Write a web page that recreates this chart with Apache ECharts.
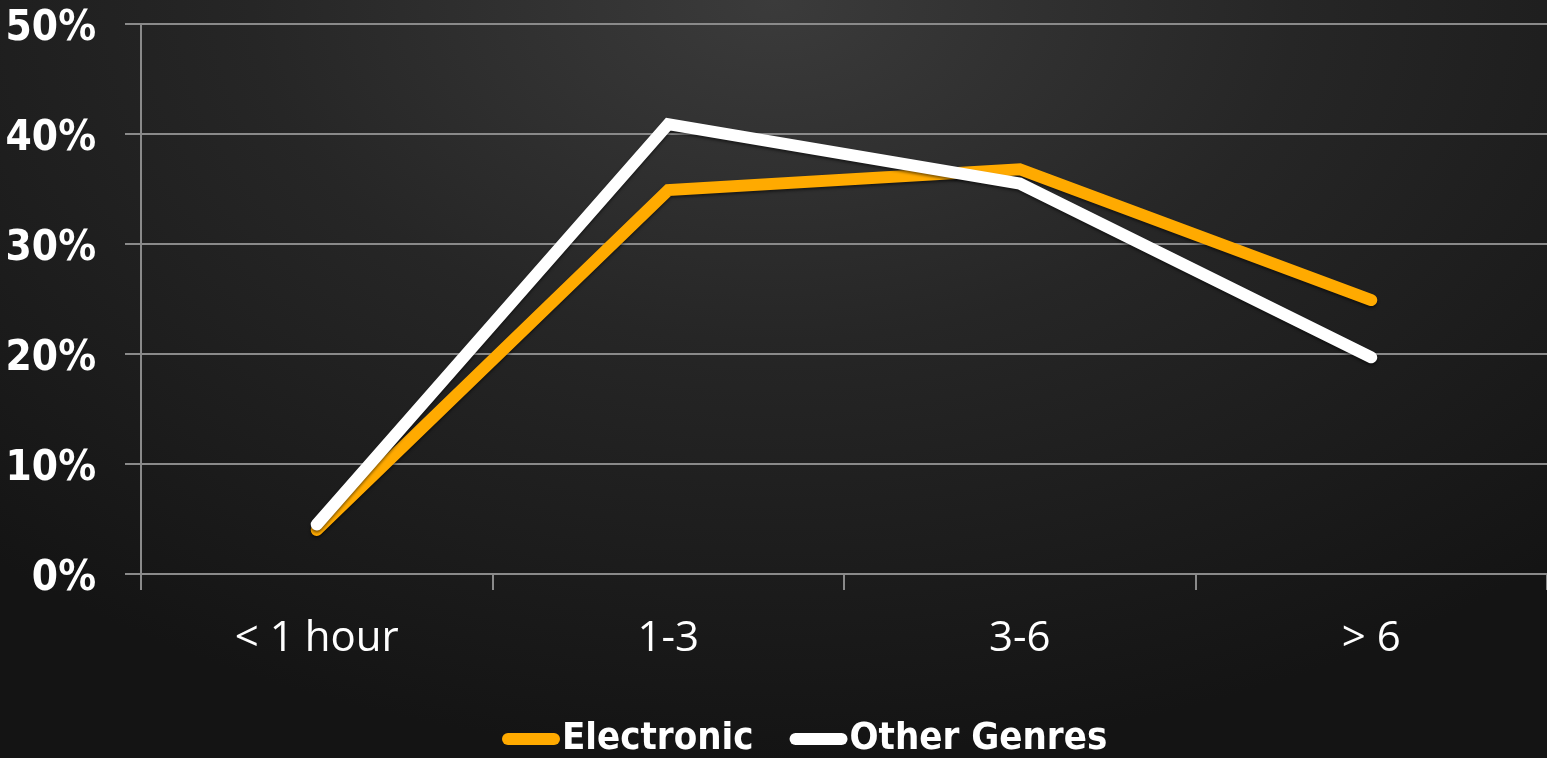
<!DOCTYPE html>
<html>
<head>
<meta charset="utf-8">
<script src="https://cdn.jsdelivr.net/npm/echarts@6/dist/echarts.min.js"></script>
<style>
  html, body { margin: 0; padding: 0; width: 100%; height: 100%; overflow: hidden; }
  body { background: radial-gradient(ellipse 75% 100% at 50% 0%, #3b3b3b 0%, #262626 45%, #141414 100%); }
  #chart { width: 1547px; height: 758px; }
</style>
</head>
<body>
<div id="chart"></div>
<script>
// Hours of listening per day, share of listeners
const categories = ['< 1 hour', '1-3', '3-6', '> 6'];
const electronic = [4.0, 34.9, 36.8, 24.9];
const otherGenres = [4.5, 40.9, 35.5, 19.7];
const seriesNames = ['Electronic', 'Other Genres'];

const condensedBold = '"DejaVu Sans Condensed", "DejaVu Sans", sans-serif';
const pillIcon = 'path://M6,0 H52 A6,6 0 0 1 52,12 H6 A6,6 0 0 1 6,0 Z';

const chart = echarts.init(document.getElementById('chart'), null, { renderer: 'canvas' });

chart.setOption({
  backgroundColor: 'transparent',
  animation: false,
  grid: { left: 141, right: -2, top: 24, bottom: 184, containLabel: false },
  legend: {
    left: 497,
    top: 715,
    itemWidth: 58,
    itemHeight: 12,
    itemGap: 36,
    icon: pillIcon,
    textStyle: {
      color: '#ffffff',
      fontFamily: condensedBold,
      fontWeight: 'bold',
      fontSize: 38,
      padding: [2, 0, 0, -3]
    },
    data: seriesNames
  },
  xAxis: {
    type: 'category',
    data: categories,
    boundaryGap: true,
    axisLine: { show: true, lineStyle: { color: '#8a8a8a', width: 2 } },
    axisTick: { show: true, length: 16, lineStyle: { color: '#8a8a8a', width: 2 } },
    axisLabel: {
      color: '#ffffff',
      fontFamily: '"Open Sans", "Noto Sans", sans-serif',
      fontSize: 42,
      margin: 44
    },
    splitLine: { show: false }
  },
  yAxis: {
    type: 'value',
    min: 0,
    max: 50,
    interval: 10,
    axisLine: { show: true, lineStyle: { color: '#8a8a8a', width: 2 } },
    axisTick: { show: true, length: 16, lineStyle: { color: '#8a8a8a', width: 2 } },
    axisLabel: {
      color: '#ffffff',
      fontFamily: condensedBold,
      fontWeight: 'bold',
      fontSize: 42,
      margin: 45,
      formatter: function (v) { return '{p|' + v + '%}'; },
      rich: {
        p: {
          color: '#ffffff',
          fontFamily: condensedBold,
          fontWeight: 'bold',
          fontSize: 42,
          padding: [10, 0, 0, 0]
        }
      }
    },
    splitLine: { show: true, lineStyle: { color: '#8a8a8a', width: 2 } }
  },
  series: [
    {
      name: seriesNames[0],
      type: 'line',
      data: electronic,
      symbol: 'none',
      color: '#ffaa00',
      lineStyle: { width: 12, color: '#ffaa00', cap: 'round', join: 'miter',
        shadowColor: 'rgba(0,0,0,0.5)', shadowBlur: 3, shadowOffsetY: 2 }
    },
    {
      name: seriesNames[1],
      type: 'line',
      data: otherGenres,
      symbol: 'none',
      color: '#ffffff',
      lineStyle: { width: 12, color: '#ffffff', cap: 'round', join: 'miter',
        shadowColor: 'rgba(0,0,0,0.5)', shadowBlur: 3, shadowOffsetY: 2 }
    }
  ]
});
</script>
</body>
</html>
